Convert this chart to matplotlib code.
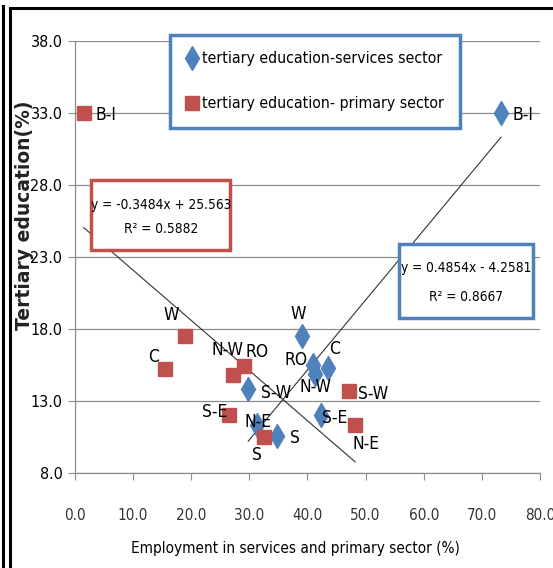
import numpy as np
import matplotlib.pyplot as plt
from matplotlib import font_manager as fm
from matplotlib.patches import Rectangle
from matplotlib.lines import Line2D

# pick a narrow face if one is installed (reference uses a condensed font)
narrow = None
for f in fm.fontManager.ttflist:
    if ('Narrow' in f.name or 'Condensed' in f.name or f.stretch in ('condensed', 'semi-condensed')) \
            and f.style == 'normal' and f.weight in (400, 'normal', 'regular'):
        narrow = f
        break

if narrow is not None:
    plt.rcParams['font.family'] = [narrow.name, 'DejaVu Sans']
    plt.rcParams['font.stretch'] = narrow.stretch
    scale = 1.0
else:
    plt.rcParams['font.family'] = ['DejaVu Sans']
    scale = 0.9

regions = ["B-I", "W", "C", "N-W", "RO", "S-E", "S", "S-W", "N-E"]
tertiary_edu = [33.0, 17.5, 15.2, 14.8, 15.4, 12.0, 10.5, 13.7, 11.3]
primary_emp = [1.5, 19.0, 15.5, 27.1, 29.1, 26.5, 32.6, 47.1, 48.2]

serv_regions = ["B-I", "W", "C", "RO", "N-W", "S-W", "S-E", "N-E", "S"]
serv_edu = [33.0, 17.5, 15.3, 15.5, 14.9, 13.8, 12.0, 11.3, 10.6]
serv_emp = [73.3, 39.1, 43.5, 41.0, 41.3, 29.8, 42.3, 31.3, 34.7]

# trendline coefficients as printed on the chart
prim_fit = (-0.3484, 25.563, 0.5882)
serv_fit = (0.4854, -4.2581, 0.8667)

blue = '#4F81BD'
red = '#C0504D'
grid_c = '#8C8C8C'

fig = plt.figure(figsize=(5.53, 5.68), dpi=100)
ax = fig.add_axes([0.1356, 0.1673, 0.8409, 0.7606])

ax.plot(serv_emp, serv_edu, linestyle='none', marker='d', ms=12, color=blue,
        label='tertiary education-services sector', zorder=3)
ax.plot(primary_emp, tertiary_edu, linestyle='none', marker='s', ms=9.5, color=red,
        label='tertiary education- primary sector', zorder=3)

# trendlines over the data range
xs = np.array([min(primary_emp), max(primary_emp)])
ax.plot(xs, prim_fit[0] * xs + prim_fit[1], color='#333333', lw=0.8, zorder=2)
xs = np.array([min(serv_emp), max(serv_emp)])
ax.plot(xs, serv_fit[0] * xs + serv_fit[1], color='#333333', lw=0.8, zorder=2)

prim_off = {"B-I": (22, -2), "W": (-14, 21), "C": (-12, 12), "N-W": (-5, 25),
            "RO": (13, 14), "S-E": (-14, 3), "S": (-8, -18), "S-W": (24, -3),
            "N-E": (11, -19)}
serv_off = {"B-I": (22, -2), "W": (-4, 22), "C": (7, 19), "RO": (-17, 5),
            "N-W": (0, -13), "S-W": (28, -4), "S-E": (14, -3), "N-E": (1, 3),
            "S": (18, -2)}
lab_fs = 12.5 * scale
for r, x, y in zip(regions, primary_emp, tertiary_edu):
    ax.annotate(r, (x, y), xytext=prim_off[r], textcoords='offset pixels',
                ha='center', va='center', fontsize=lab_fs, zorder=4)
for r, x, y in zip(serv_regions, serv_emp, serv_edu):
    ax.annotate(r, (x, y), xytext=serv_off[r], textcoords='offset pixels',
                ha='center', va='center', fontsize=lab_fs, zorder=4)

ax.set_xlim(0, 80)
ax.set_ylim(8, 38)
ax.set_xticks(np.arange(0, 81, 10))
ax.set_yticks(np.arange(8, 39, 5))
ax.xaxis.set_major_formatter(plt.FuncFormatter(lambda v, p: f'{v:.1f}'))
ax.yaxis.set_major_formatter(plt.FuncFormatter(lambda v, p: f'{v:.1f}'))
ax.tick_params(axis='x', direction='out', length=5, color=grid_c, labelsize=11 * scale, pad=20, labelcolor='#333333')
ax.tick_params(axis='y', direction='out', length=5, color=grid_c, labelsize=11.5 * scale, pad=4)
ax.grid(axis='y', color=grid_c, lw=0.9)
ax.set_axisbelow(True)
for s in ['top', 'right']:
    ax.spines[s].set_visible(False)
for s in ['left', 'bottom']:
    ax.spines[s].set_color(grid_c)
    ax.spines[s].set_linewidth(0.9)

ax.set_xlabel('Employment in services and primary sector (%)', fontsize=11 * scale)
ax.xaxis.label.set_va('center')
ax.xaxis.set_label_coords(0.475, -0.174)
ax.set_ylabel('Tertiary education(%)', fontsize=13.5, family='DejaVu Sans', stretch='normal',
              fontweight='bold', color='#222222')
ax.yaxis.set_label_coords(-0.088, 0.597)

leg = ax.legend(loc='upper left', bbox_to_anchor=(0.204, 1.014), fontsize=11.3 * scale, frameon=True,
                fancybox=False, framealpha=1, edgecolor=blue, labelspacing=1.9,
                handlelength=0.7, handletextpad=0.3, borderpad=1.05, borderaxespad=0)
leg.get_frame().set_linewidth(2.5)

# equation boxes
eq_fs = 9.8 * scale
fig.patches.append(Rectangle((0.1646, 0.5599), 0.2514, 0.1232, transform=fig.transFigure,
                             facecolor='white', edgecolor=red, lw=2.5, zorder=5))
fig.text(0.2911, 0.6390, 'y = -0.3484x + 25.563', ha='center', va='center', fontsize=eq_fs, zorder=6)
fig.text(0.2911, 0.5970, 'R² = 0.5882', ha='center', va='center', fontsize=eq_fs, zorder=6)
fig.patches.append(Rectangle((0.7215, 0.4401), 0.2423, 0.1303, transform=fig.transFigure,
                             facecolor='white', edgecolor=blue, lw=2.5, zorder=5))
fig.text(0.8427, 0.5282, 'y = 0.4854x - 4.2581', ha='center', va='center', fontsize=eq_fs, zorder=6)
fig.text(0.8427, 0.4771, 'R² = 0.8667', ha='center', va='center', fontsize=eq_fs, zorder=6)

# outer chart borders
fig.lines.append(Line2D([3 / 553, 3 / 553], [0, 1 - 6 / 568], transform=fig.transFigure, color='black', lw=2.2))
fig.lines.append(Line2D([10 / 553, 10 / 553], [0, 1 - 8 / 568], transform=fig.transFigure, color='black', lw=2.2))
fig.lines.append(Line2D([10 / 553, 1], [1 - 8 / 568, 1 - 8 / 568], transform=fig.transFigure, color='black', lw=2.2))

plt.savefig('out.png', dpi=100)
